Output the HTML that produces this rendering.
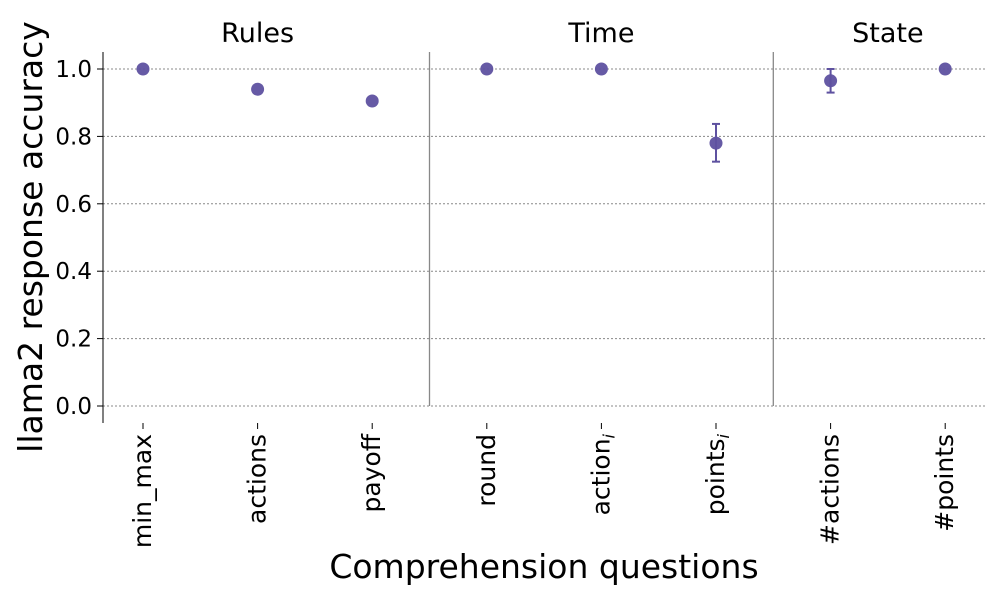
<!DOCTYPE html>
<html><head><meta charset="utf-8"><style>
body{margin:0;background:#fff}
svg text{font-family:"DejaVu Sans","Liberation Sans",sans-serif;fill:#000}
</style></head><body>
<svg width="1000" height="600" id="c"></svg>
<script>
const categories=["min_max","actions","payoff","round","action_i","points_i","#actions","#points"];
const values=[1.0,0.94,0.905,1.0,1.0,0.78,0.965,1.0];
const errLow=[1.0,0.94,0.905,1.0,1.0,0.725,0.93,1.0];
const errHigh=[1.0,0.94,0.905,1.0,1.0,0.837,1.0,1.0];
const yTicks=[0,0.2,0.4,0.6,0.8,1.0];
const groups=[{name:"Rules",start:0,end:2},{name:"Time",start:3,end:5},{name:"State",start:6,end:7}];
const NS="http://www.w3.org/2000/svg";
const svg=document.getElementById('c');
const y=v=>406-v*337;
const x=i=>143+i*114.6;
function el(t,a,p){const e=document.createElementNS(NS,t);for(const k in a)e.setAttribute(k,a[k]);(p||svg).appendChild(e);return e;}
yTicks.forEach(t=>{
 const g=el('line',{x1:103,x2:985,y1:y(t),y2:y(t),stroke:'#888','stroke-dasharray':'2,2','stroke-width':1});
 
 
 const tk=el('line',{x1:97,x2:103,y1:y(t),y2:y(t),stroke:'#000'});
 
 
 const tx=el('text',{x:92,y:y(t)+8,'text-anchor':'end','font-size':23});
 tx.textContent=t.toFixed(1);
 
 
});
const sp=el('line',{x1:103,x2:103,y1:52,y2:423,stroke:'#000'});


groups.forEach((g,gi)=>{
 if(gi>0){const s=el('line',{x1:(x(g.start)+x(g.start-1))/2,x2:(x(g.start)+x(g.start-1))/2,y1:52,y2:406,stroke:'#888','stroke-width':1.3});
 
 }
 const t=el('text',{x:(x(g.start)+x(g.end))/2,y:42,'text-anchor':'middle','font-size':27});
 t.textContent=g.name;
 
 
});
categories.forEach((c,i)=>{
 const tk=el('line',{x1:x(i),x2:x(i),y1:423,y2:429,stroke:'#000'});
 
 
 const t=el('text',{transform:`translate(${x(i)+8},434) rotate(-90)`,'text-anchor':'end','font-size':25});
 if(c.endsWith('_i')){t.textContent=c.slice(0,-2);const s=el('tspan',{'font-size':16,'font-style':'italic',dy:5},t);s.textContent='i';}
 else t.textContent=c;
 
 
});
values.forEach((v,i)=>{
 if(errHigh[i]-errLow[i]>0.001){
  const g=el('g',{stroke:'#5e51a0','stroke-width':2});
  
  
  el('line',{x1:x(i),x2:x(i),y1:y(errHigh[i]),y2:y(errLow[i])},g);
  el('line',{x1:x(i)-4,x2:x(i)+4,y1:y(errHigh[i]),y2:y(errHigh[i])},g);
  el('line',{x1:x(i)-4,x2:x(i)+4,y1:y(errLow[i]),y2:y(errLow[i])},g);
 }
 const p=el('circle',{cx:x(i),cy:y(v),r:6.5,fill:'#5e51a0','fill-opacity':0.95});
 
 
});
const yt=el('text',{transform:'translate(42,237) rotate(-90)','text-anchor':'middle','font-size':33});
yt.textContent='llama2 response accuracy';


const xt=el('text',{x:544,y:578,'text-anchor':'middle','font-size':33});
xt.textContent='Comprehension questions';


</script>
</body></html>
